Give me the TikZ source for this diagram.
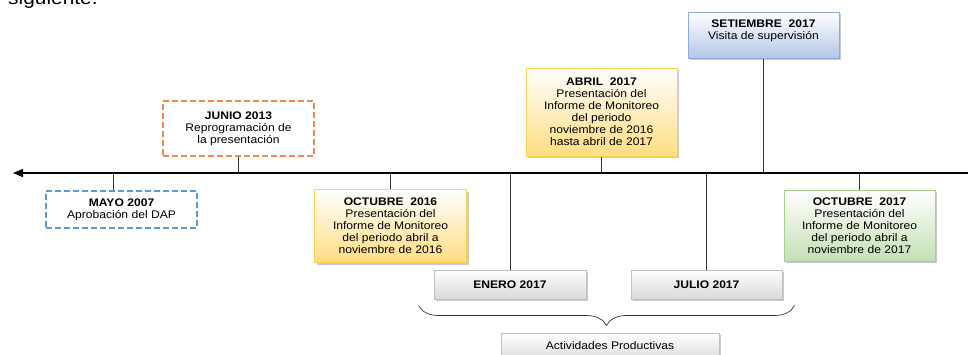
\documentclass[tikz,border=0pt]{standalone}
\usepackage{fontspec}
\setmainfont{Liberation Sans}[FakeStretch=1.1]
\usepackage{xcolor}
\usetikzlibrary{arrows.meta,shadows,decorations.pathreplacing}
\definecolor{dashblue}{HTML}{5B9BD5}
\definecolor{dashorange}{HTML}{F08A4B}
\definecolor{ambar}{HTML}{FFDD80}
\definecolor{ambarline}{HTML}{FFD34E}
\definecolor{cielo}{HTML}{B4C7E7}
\definecolor{cieloline}{HTML}{8FAADC}
\definecolor{verde}{HTML}{C5E0B4}
\definecolor{verdeline}{HTML}{A9D18E}
\definecolor{gris}{HTML}{D9D9D9}
\definecolor{grisline}{HTML}{BFBFBF}
\tikzset{
  hito/.style={align=center,font=\fontsize{11}{12}\selectfont,inner sep=2pt,minimum width=151pt},
  sombra/.style={drop shadow={shadow xshift=2pt,shadow yshift=-2pt,opacity=.35,fill=black!60}},
  dashbox/.style={hito,draw=#1,line width=1.3pt,dash pattern=on 6pt off 3pt},
  gradbox/.style 2 args={hito,sombra,draw=#2,line width=1pt,top color=white,bottom color=#1},
  tick/.style={draw=black!80,line width=.8pt}
}
\begin{document}
\begin{tikzpicture}[x=1pt,y=-1pt]
\useasboundingbox (0,0) rectangle (968,354);
\clip (0,0) rectangle (968,354);
\node[anchor=base west,font=\fontsize{19}{20}\selectfont,inner sep=0pt] (sig) at (8,4) {siguiente.};
\coordinate (tl) at (13,173);
\coordinate (tr) at (968,173);
\node[dashbox=dashblue,minimum height=37pt] (mayo) at (121.5,209.5) {\textbf{MAYO 2007}\\Aprobación del DAP};
\node[dashbox=dashorange,minimum height=55pt] (junio) at (238.5,128.5) {\textbf{JUNIO 2013}\\Reprogramación de\\la presentación};
\node[gradbox={ambar}{ambarline},minimum height=73pt,minimum width=152pt] (oct16) at (390.5,226) {\textbf{OCTUBRE\ \ 2016}\\Presentación del\\Informe de Monitoreo\\del periodo abril a\\noviembre de 2016};
\node[gradbox={ambar}{ambarline},minimum height=88pt] (abril) at (601.5,112) {\textbf{ABRIL\ \ 2017}\\Presentación del\\Informe de Monitoreo\\del periodo\\noviembre de 2016\\hasta abril de 2017};
\node[gradbox={gris}{grisline},minimum height=29pt,minimum width=152pt] (enero) at (510,284.5) {\textbf{ENERO 2017}};
\node[gradbox={gris}{grisline},minimum height=29pt] (julio) at (706.5,284.5) {\textbf{JULIO 2017}};
\node[gradbox={cielo}{cieloline},minimum height=46pt,text depth=10pt] (setiembre) at (763.5,35) {\textbf{SETIEMBRE\ \ 2017}\\Visita de supervisión};
\node[gradbox={verde}{verdeline},minimum height=71pt] (oct17) at (859.5,225.5) {\textbf{OCTUBRE\ \ 2017}\\Presentación del\\Informe de Monitoreo\\del periodo abril a\\noviembre de 2017};
\node[gradbox={gris}{grisline},minimum height=28pt,minimum width=218pt,text depth=3pt] (activ) at (610,347) {Actividades Productivas};
\draw[line width=1.4pt,-{Triangle[length=10pt,width=8pt]}] (tr) -- (tl);
\draw[tick] ([xshift=-8pt]mayo.north) -- ([xshift=-8pt]mayo.north |- tl);
\draw[tick] (junio.south) -- (junio.south |- tl);
\draw[tick] (oct16.north) -- (oct16.north |- tl);
\draw[tick] (abril.south) -- (abril.south |- tl);
\draw[tick] (enero.north) -- (enero.north |- tl);
\draw[tick] (julio.north) -- (julio.north |- tl);
\draw[tick] (setiembre.south) -- (setiembre.south |- tl);
\draw[tick] (oct17.north) -- (oct17.north |- tl);
\draw[black!80,line width=.7pt,decorate,decoration={brace,amplitude=20pt}] ([xshift=12pt,yshift=-6pt]julio.south east) -- ([xshift=-15pt,yshift=-6pt]enero.south west);
\end{tikzpicture}
\end{document}
